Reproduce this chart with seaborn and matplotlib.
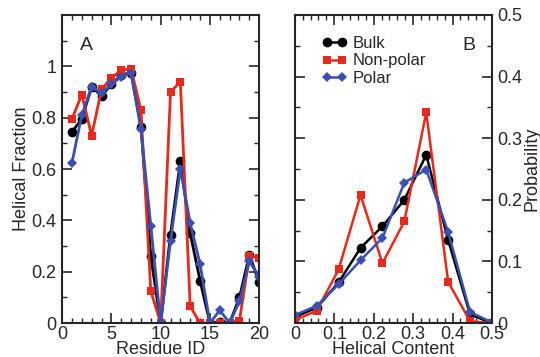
import numpy as np
import pandas as pd
import seaborn as sns
import matplotlib
matplotlib.use("Agg")
import matplotlib.pyplot as plt
from matplotlib.ticker import MultipleLocator, FixedLocator, FixedFormatter

# ---- panel A : helical fraction per residue ----
residue = list(range(1, 21))
bulk_frac = [0.745, 0.795, 0.92, 0.885, 0.93, 0.965, 0.975, 0.765, 0.26, 0.0,
             0.345, 0.63, 0.35, 0.165, 0.0, 0.005, 0.0, 0.10, 0.265, 0.16]
nonpolar_frac = [0.795, 0.89, 0.73, 0.91, 0.955, 0.985, 0.99, 0.83, 0.125, 0.0,
                 0.90, 0.94, 0.065, 0.0, 0.0, 0.0, 0.0, 0.01, 0.26, 0.255]
polar_frac = [0.625, 0.81, 0.92, 0.895, 0.93, 0.96, 0.975, 0.755, 0.38, 0.0,
              0.32, 0.60, 0.39, 0.23, 0.0, 0.05, 0.0, 0.085, 0.24, 0.18]

# ---- panel B : distribution of helical content ----
helical_content = [k / 18 for k in range(10)]
bulk_prob = [0.010, 0.025, 0.066, 0.122, 0.157, 0.200, 0.273, 0.135, 0.014, 0.0]
nonpolar_prob = [0.005, 0.020, 0.087, 0.208, 0.097, 0.165, 0.342, 0.067, 0.003, 0.0]
polar_prob = [0.013, 0.028, 0.063, 0.102, 0.138, 0.228, 0.249, 0.148, 0.018, 0.001]

series_names = ["Bulk", "Non-polar", "Polar"]
colors = {"Bulk": "black", "Non-polar": "#e8291c", "Polar": "#3a4fb0"}
markers = {"Bulk": "o", "Non-polar": "s", "Polar": "D"}
msizes = {"Bulk": 7, "Non-polar": 6, "Polar": 5}

sns.set_style("ticks")
plt.rcParams['font.family'] = ['Liberation Sans', 'DejaVu Sans']
plt.rcParams['font.size'] = 13

dfA = pd.DataFrame({"residue": residue * 3,
                    "value": bulk_frac + nonpolar_frac + polar_frac,
                    "series": sum([[s] * len(residue) for s in series_names], [])})
dfB = pd.DataFrame({"content": helical_content * 3,
                    "value": bulk_prob + nonpolar_prob + polar_prob,
                    "series": sum([[s] * len(helical_content) for s in series_names], [])})

fig = plt.figure(figsize=(5.4, 3.57), dpi=100)
axA = fig.add_axes([0.115, 0.095, 0.365, 0.863])
axB = fig.add_axes([0.546, 0.095, 0.365, 0.863])

for s in series_names:
    sns.lineplot(data=dfA[dfA.series == s], x="residue", y="value", ax=axA,
                 color=colors[s], marker=markers[s], markersize=msizes[s],
                 markeredgewidth=0, linewidth=2, label=s, legend=False)
    sns.lineplot(data=dfB[dfB.series == s], x="content", y="value", ax=axB,
                 color=colors[s], marker=markers[s], markersize=msizes[s],
                 markeredgewidth=0, linewidth=1.8, label=s, legend=False)

# panel A axes
axA.set_xlim(0, 20)
axA.set_ylim(0, 1.2)
axA.xaxis.set_major_locator(MultipleLocator(5))
axA.xaxis.set_minor_locator(MultipleLocator(1))
axA.yaxis.set_major_locator(FixedLocator([0, 0.2, 0.4, 0.6, 0.8, 1.0, 1.2]))
axA.yaxis.set_major_formatter(FixedFormatter(["0", "0.2", "0.4", "0.6", "0.8", "1", ""]))
axA.yaxis.set_minor_locator(MultipleLocator(0.1))
axA.set_xlabel("Residue ID", labelpad=-1)
axA.set_ylabel("Helical Fraction", labelpad=1)
axA.text(0.09, 0.885, "A", transform=axA.transAxes, fontsize=14)

# panel B axes
axB.set_xlim(0, 0.5)
axB.set_ylim(0, 0.5)
axB.xaxis.set_major_locator(FixedLocator([0, 0.1, 0.2, 0.3, 0.4, 0.5]))
axB.xaxis.set_major_formatter(FixedFormatter(["0", "0.1", "0.2", "0.3", "0.4", "0.5"]))
axB.xaxis.set_minor_locator(MultipleLocator(0.02))
axB.yaxis.set_major_locator(FixedLocator([0, 0.1, 0.2, 0.3, 0.4, 0.5]))
axB.yaxis.set_major_formatter(FixedFormatter(["0", "0.1", "0.2", "0.3", "0.4", "0.5"]))
axB.yaxis.set_minor_locator(MultipleLocator(0.05))
axB.yaxis.tick_right()
axB.yaxis.set_label_position("right")
axB.set_xlabel("Helical Content", labelpad=-1)
axB.set_ylabel("Probability", labelpad=1)
axB.text(0.85, 0.886, "B", transform=axB.transAxes, fontsize=14)
leg = axB.legend(loc="upper left", bbox_to_anchor=(0.08, 0.97), frameon=False,
                 numpoints=2, handlelength=1.5, handletextpad=0.3,
                 labelspacing=0.15, borderpad=0.2, fontsize=12)

for ax in (axA, axB):
    ax.tick_params(which="both", direction="in", top=True, bottom=True,
                   left=True, right=True, labelsize=13, pad=2)
    ax.tick_params(which="major", length=7, width=1.2)
    ax.tick_params(which="minor", length=3.5, width=1)
    ax.tick_params(axis="y", which="major", pad=4)
    for sp in ax.spines.values():
        sp.set_linewidth(1.5)
axB.tick_params(which="both", labelleft=False, labelright=True)
axA.tick_params(which="both", labelright=False)

fig.savefig("out.png", dpi=100)
